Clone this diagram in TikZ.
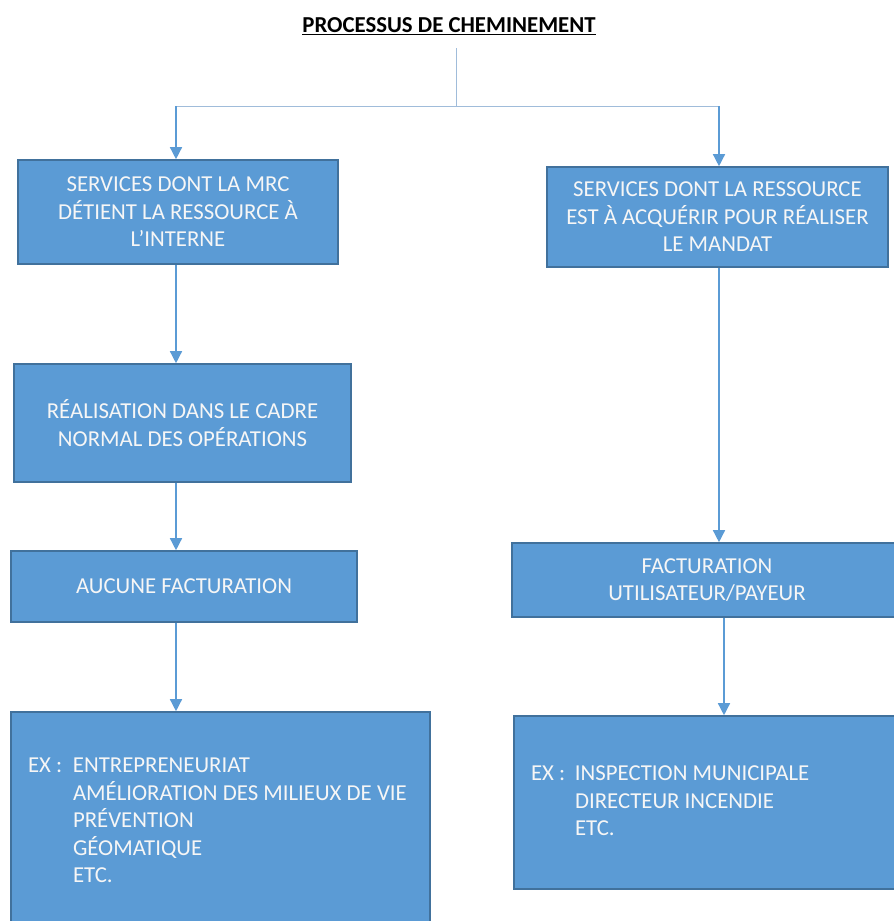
\documentclass[tikz,border=0pt]{standalone}
\usepackage{fontspec}
\setmainfont{Carlito}
\usetikzlibrary{arrows.meta}
\definecolor{boxBlue}{RGB}{91,155,213}
\definecolor{edgeBlue}{RGB}{65,113,156}
\definecolor{stemBlue}{RGB}{160,188,218}
\definecolor{textWhite}{RGB}{246,246,246}

\begin{document}
\begin{tikzpicture}[
  x=1pt, y=-1pt,
  box/.style={rectangle, draw=edgeBlue, line width=1.6pt, fill=boxBlue,
              text=textWhite, align=flush center, inner sep=0pt,
              font=\fontsize{22.8}{27.5}\selectfont},
  exbox/.style={box, align=flush left, inner xsep=17pt},
  arr/.style={-{Triangle[width=12pt,length=12pt]}, line width=1.4pt, color=boxBlue},
  link/.style={line width=1pt, color=stemBlue},
]
\useasboundingbox (0,0) rectangle (894,921);
\fill[white] (0,0) rectangle (894,921);
\clip (0,0) rectangle (894,921);

%% Title
\node[font=\fontsize{22.8}{26}\selectfont\bfseries] (title) at (449,26)
  {\underline{PROCESSUS DE CHEMINEMENT}};

%% Nodes
\node[box, minimum width=320pt, minimum height=104pt, text width=310pt] (mrc) at (178,212)
  {SERVICES DONT LA MRC\\ DÉTIENT LA RESSOURCE À\\ L’INTERNE};
\node[box, minimum width=341pt, minimum height=100pt, text width=335pt] (acq) at (717.5,217)
  {SERVICES DONT LA RESSOURCE\\ EST À ACQUÉRIR POUR RÉALISER\\ LE MANDAT};
\node[box, minimum width=337pt, minimum height=118pt, text width=325pt] (real) at (182.5,423)
  {RÉALISATION DANS LE CADRE\\ NORMAL DES OPÉRATIONS};
\node[box, minimum width=346pt, minimum height=71pt, text width=330pt] (aucune) at (184,586.5)
  {AUCUNE FACTURATION};
\node[box, minimum width=390pt, minimum height=74pt, text width=370pt] (fact) at (707,580)
  {FACTURATION\\ UTILISATEUR/PAYEUR};
\node[exbox, minimum height=220pt, text width=385pt] (exl) at (220.5,822)
  {\begin{tabular}{@{}p{45pt}@{}l@{}}
   EX : & ENTREPRENEURIAT\\
        & AMÉLIORATION DES MILIEUX DE VIE\\
        & PRÉVENTION\\
        & GÉOMATIQUE\\
        & ETC.
   \end{tabular}};
\node[exbox, minimum height=173pt, text width=357pt] (exr) at (709.5,802.5)
  {\begin{tabular}{@{}p{44pt}@{}l@{}}
   EX : & INSPECTION MUNICIPALE\\
        & DIRECTEUR INCENDIE\\
        & ETC.
   \end{tabular}};

%% Fork under the title
\coordinate (stem) at (456,48);
\coordinate (fork) at (456,106);
\coordinate (lx) at (176,106);
\coordinate (rx) at (719,106);
\coordinate (rx2) at (724,0);
\draw[link] (stem) -- (fork);
\draw[link] (lx) -- (rx);

%% Edges
\draw[arr] (lx) -- (lx |- mrc.north);
\draw[arr] (rx) -- (rx |- acq.north);
\draw[arr] (lx |- mrc.south) -- (lx |- real.north);
\draw[arr] (lx |- real.south) -- (lx |- aucune.north);
\draw[arr] (lx |- aucune.south) -- (lx |- exl.north);
\draw[arr] (rx |- acq.south) -- (rx |- fact.north);
\draw[arr] (rx2 |- fact.south) -- (rx2 |- exr.north);
\end{tikzpicture}
\end{document}
